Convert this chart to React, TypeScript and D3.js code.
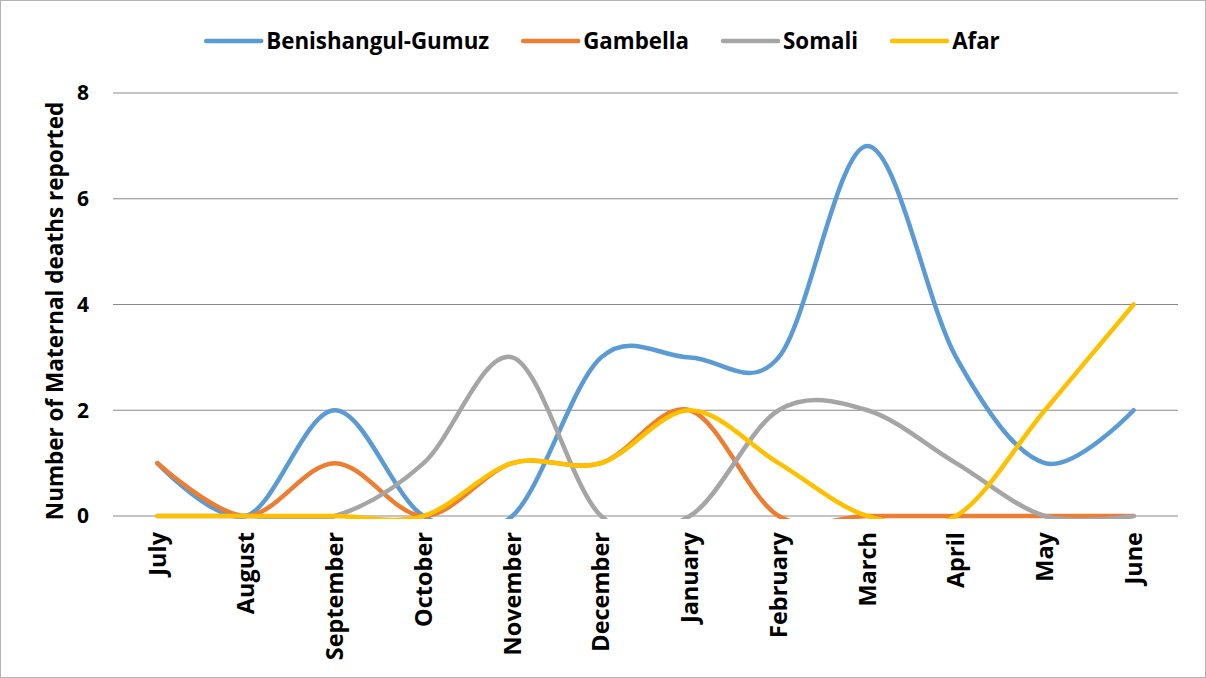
import React, { useEffect, useRef } from "react";
import * as d3 from "d3";

const months = ["July", "August", "September", "October", "November", "December", "January", "February", "March", "April", "May", "June"];
const benishangul = [1, 0, 2, 0, 0, 3, 3, 3, 7, 3, 1, 2];
const gambella = [1, 0, 1, 0, 1, 1, 2, 0, 0, 0, 0, 0];
const somali = [0, 0, 0, 1, 3, 0, 0, 2, 2, 1, 0, 0];
const afar = [0, 0, 0, 0, 1, 1, 2, 1, 0, 0, 2, 4];
const seriesNames = ["Benishangul-Gumuz", "Gambella", "Somali", "Afar"];
const seriesColors = ["#5b9bd5", "#ed7d31", "#a5a5a5", "#ffc000"];
const yTicks = [0, 2, 4, 6, 8];

export default function App() {
  const ref = useRef<SVGSVGElement>(null);

  useEffect(() => {
    document.body.style.margin = "0";
    const width = 1206;
    const height = 678;
    const svg = d3.select(ref.current);
    svg.selectAll("*").remove();
    const font = "'Open Sans', sans-serif";

    // outer frame
    svg.append("rect").attr("x", 0.5).attr("y", 0.5).attr("width", width - 1).attr("height", height - 1)
      .attr("fill", "#fff").attr("stroke", "#b3b3b3");

    const plot = { left: 113, right: 1178, top: 93, bottom: 516 };
    const x = d3.scalePoint<string>().domain(months).range([plot.left, plot.right]).padding(0.5);
    const y = d3.scaleLinear().domain([0, 8]).range([plot.bottom, plot.top]);

    // grid
    svg.append("g").selectAll("line").data(yTicks).join("line")
      .attr("x1", plot.left).attr("x2", plot.right)
      .attr("y1", (d) => y(d)).attr("y2", (d) => y(d))
      .attr("stroke", "#898989").attr("stroke-width", 1.2);

    // y labels
    svg.append("g").selectAll("text").data(yTicks).join("text")
      .attr("x", 89).attr("y", (d) => y(d)).attr("dy", "0.35em")
      .attr("text-anchor", "end").attr("font-family", font).attr("font-weight", 700)
      .attr("font-size", 21).attr("fill", "#000").text((d) => d);

    // x labels
    svg.append("g").selectAll("text").data(months).join("text")
      .attr("transform", (d) => `translate(${x(d)},532) rotate(-90)`)
      .attr("dy", "0.35em").attr("text-anchor", "end")
      .attr("font-family", font).attr("font-weight", 700).attr("font-size", 23.5)
      .attr("fill", "#000").text((d) => d);

    // axis title
    svg.append("text").attr("transform", `translate(55,311) rotate(-90)`)
      .attr("dy", "0.35em").attr("text-anchor", "middle")
      .attr("font-family", font).attr("font-weight", 700).attr("font-size", 22.5)
      .attr("fill", "#000").text("Number of Maternal deaths reported");

    // lines, clipped at plot bottom like Excel
    svg.append("clipPath").attr("id", "plotclip").append("rect")
      .attr("x", 0).attr("y", 0).attr("width", width).attr("height", plot.bottom + 3);

    const line = d3.line<number>()
      .x((_, i) => x(months[i]) as number)
      .y((d) => y(d))
      .curve(d3.curveCardinal.tension(0));

    const allSeries = [benishangul, gambella, somali, afar];
    svg.append("g").attr("clip-path", "url(#plotclip)")
      .selectAll("path").data(allSeries).join("path")
      .attr("d", (d) => line(d))
      .attr("fill", "none")
      .attr("stroke", (_, i) => seriesColors[i])
      .attr("stroke-width", 4.5)
      .attr("stroke-linecap", "round")
      .attr("stroke-linejoin", "round");

    // legend, centered
    const legend = svg.append("g");
    const lineLen = 55;
    const textGap = 5;
    const itemGap = 34;
    let cursor = 0;
    seriesNames.forEach((name, i) => {
      const item = legend.append("g").attr("transform", `translate(${cursor},0)`);
      item.append("line").attr("x1", 0).attr("x2", lineLen).attr("y1", 0).attr("y2", 0)
        .attr("stroke", seriesColors[i]).attr("stroke-width", 4.5).attr("stroke-linecap", "round");
      const t = item.append("text").attr("x", lineLen + textGap).attr("dy", "0.35em")
        .attr("font-family", font).attr("font-weight", 700).attr("font-size", 22.3)
        .attr("fill", "#000").text(name);
      const w = (t.node() as SVGTextElement).getComputedTextLength();
      cursor += lineLen + textGap + w + itemGap;
    });
    const total = cursor - itemGap;
    legend.attr("transform", `translate(${(width - total) / 2},41)`);
  }, []);

  return <svg ref={ref} width={1206} height={678} style={{ display: "block" }} />;
}
